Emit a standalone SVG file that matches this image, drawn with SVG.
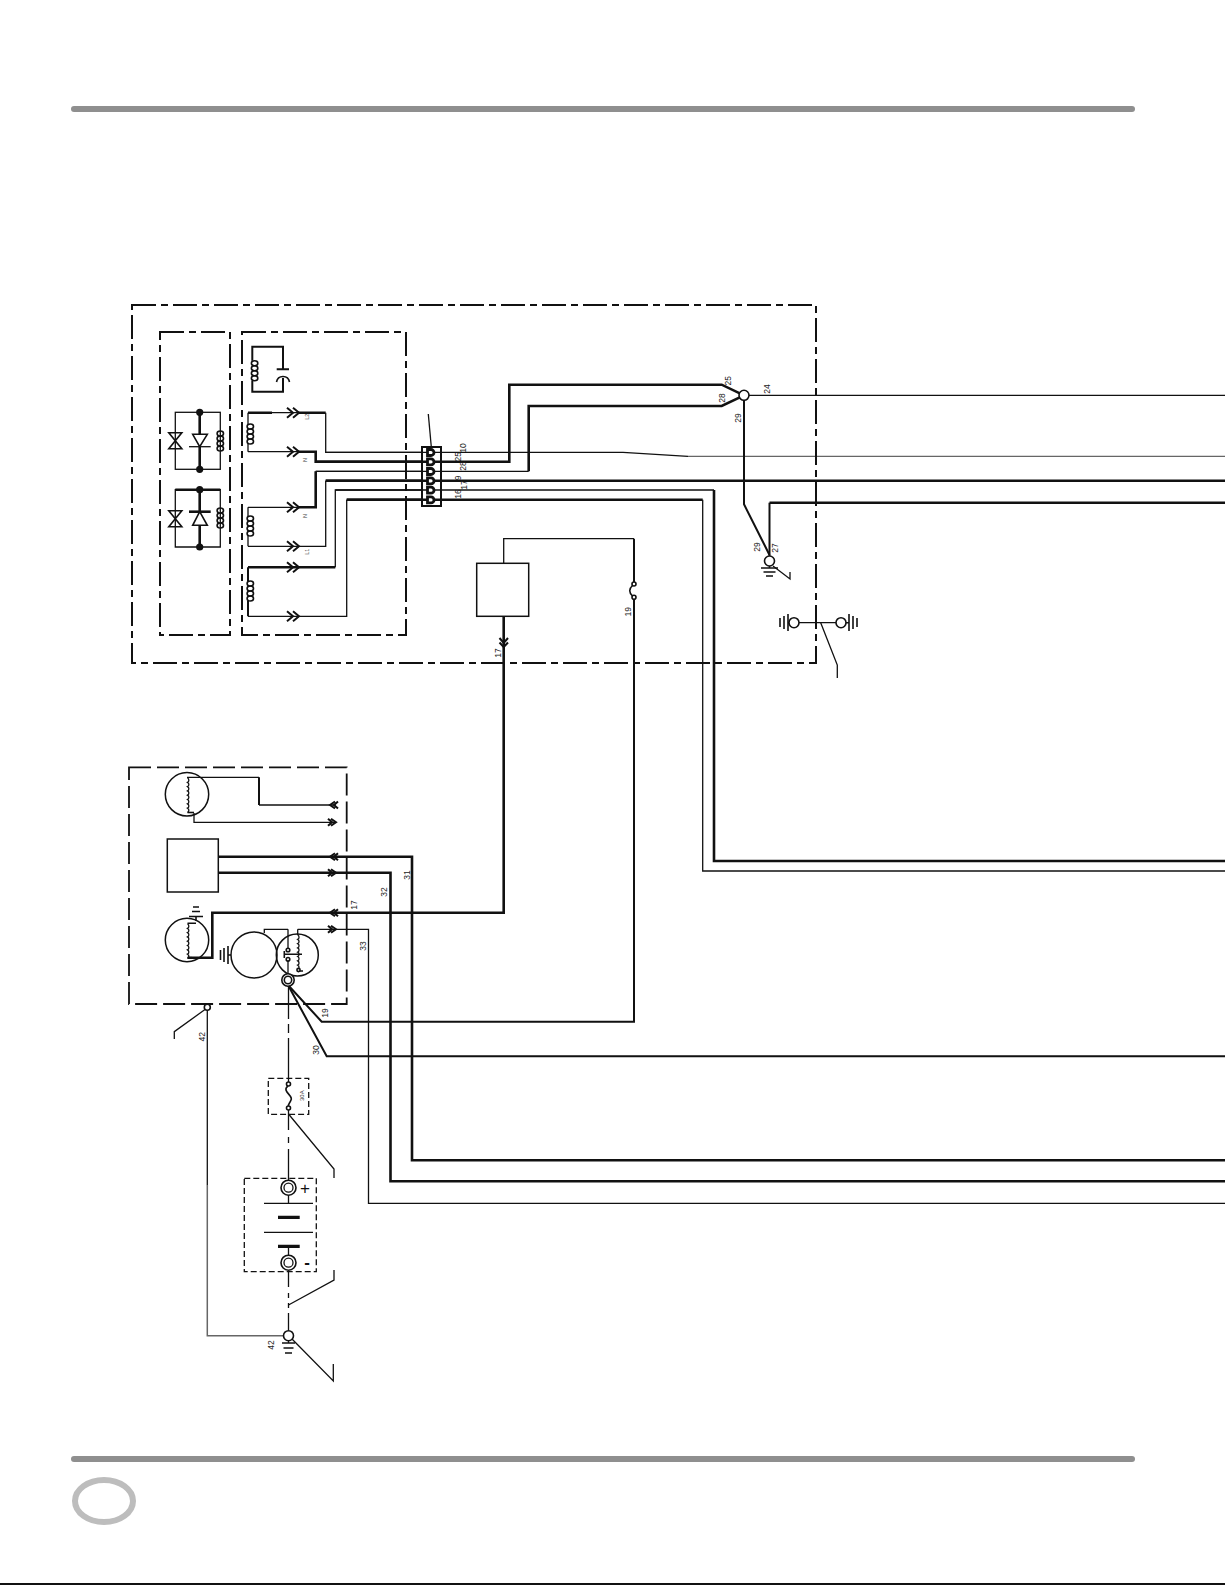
<svg xmlns="http://www.w3.org/2000/svg" width="1225" height="1585" viewBox="0 0 1225 1585">
<style>
.w{fill:none;stroke:#111;stroke-linejoin:miter}
.t1{stroke-width:1.3}
.t2{stroke-width:2}
.t3{stroke-width:2.6}
.box{fill:none;stroke:#111;stroke-width:2;stroke-dasharray:24 5 7 5}
.box2{fill:none;stroke:#111;stroke-width:1.8;stroke-dasharray:22 6}
.box3{fill:none;stroke:#111;stroke-width:1.3;stroke-dasharray:6 3}
.solid{fill:#fff;stroke:#111;stroke-width:1.6}
.sym{fill:none;stroke:#111;stroke-width:1.6}
.sym2{fill:none;stroke:#111;stroke-width:2}
.sym3{fill:none;stroke:#111;stroke-width:3.2}
.c{fill:none;stroke:#111;stroke-width:1.6}
.l{font-family:"Liberation Sans",Arial,sans-serif;font-size:8.5px;fill:#222;text-anchor:middle}
.s{font-family:"Liberation Sans",Arial,sans-serif;font-size:5.5px;fill:#444;text-anchor:middle}
.bar{stroke:#8f8f8f;stroke-width:6;stroke-linecap:round}
</style>
<defs>
<g id="coil" class="c"><ellipse cx="2.3" cy="2.5" rx="3.2" ry="2.5"/><ellipse cx="2.3" cy="7.500" rx="3.2" ry="2.5"/><ellipse cx="2.3" cy="12.500" rx="3.2" ry="2.5"/><ellipse cx="2.3" cy="17.500" rx="3.2" ry="2.5"/></g>
<path id="scal" class="sym" style="stroke-width:1.3" d="M0 0a2.400 2.400 0 0 1 0 4.300a2.400 2.400 0 0 1 0 4.300a2.400 2.400 0 0 1 0 4.300a2.400 2.400 0 0 1 0 4.300a2.400 2.400 0 0 1 0 4.300a2.400 2.400 0 0 1 0 4.300a2.400 2.400 0 0 1 0 4.300a2.400 2.400 0 0 1 0 4.300"/>
<path id="chev" class="sym2" d="M-6 -5L0 0L-6 5M0 -5L6 0L0 5"/>
<path id="arrR" class="sym2" d="M-5 -3.500L-1 0L-5 3.500M-2 -3.500L3 0L-2 3.500"/>
<path id="bow" class="sym" d="M-6.500 -8H6.500L-6.500 8H6.500Z"/>
</defs>
<rect width="1225" height="1585" fill="#fff"/>
<g id="page-frame">
<line class="bar" x1="74" y1="109" x2="1132" y2="109"/>
<line class="bar" x1="74" y1="1459" x2="1132" y2="1459"/>
<ellipse cx="104" cy="1501" rx="29" ry="21" fill="none" stroke="#bdbdbd" stroke-width="6"/>
<rect x="0" y="1583" width="1225" height="2" fill="#111"/>
</g>
<g id="connectors">
<path class="w t1" d="M325.700 412.700V452.300H623L688 456.300"/>
<path class="w t1" style="stroke:#666" d="M688 456.300H1225"/>
<path class="w t1" d="M248 412.700H298"/>
<path class="w t3" d="M248 412.700H272M298 412.700H325.700"/>
<path class="w t1" d="M248 451.700H298"/>
<path class="w t3" d="M298 451.700H315.700V461.700H509.300V384.700H721.700L744 395.300"/>
<path class="w t1" d="M248 507.300H298"/>
<path class="w t3" d="M298 507.300H315.700V471.300"/>
<path class="w t1" d="M315.700 471.300H528.700"/>
<path class="w t3" d="M528.700 471.300V406H721.700L744 395.300"/>
<path class="w t1" d="M248 546.300H325.700V480.700"/>
<path class="w t3" d="M325.700 480.700H1225"/>
<path class="w t3" d="M248 567.300H335.300"/>
<path class="w t1" d="M335.300 567.300V490H714"/>
<path class="w t3" d="M714 490V861H1225"/>
<path class="w t1" d="M248 616.300H346.700V499.700"/>
<path class="w t3" d="M346.700 499.700H702.700"/>
<path class="w t1" d="M702.700 499.700V871H1225"/>
<path class="w t1" d="M749 395.300H1225"/>
<path class="w t2" d="M744 400V504.300L769.500 555"/>
<path class="w t2" d="M769.500 556V502.700"/>
<path class="w t3" d="M769.500 502.700H1225"/>
<path class="w t1" d="M503.700 563.300V538.700H634"/>
<path class="w t2" d="M634 538.700V582"/>
<path class="w t2" d="M634 600V1021.700H321.700L288 985"/>
<path class="w t3" d="M503.700 616.300V912.700H212.300V957.700H187.700"/>
<path class="w t2" d="M1225 1056.300H326.700L288 985"/>
<path class="w t1" d="M187 777.300H259"/>
<path class="w t2" d="M259 777.300V805"/>
<path class="w t1" d="M259 805H336"/>
<path class="w t1" d="M194 813V822.300H336"/>
<path class="w t3" d="M218.300 856.700H412V1160.300H1225"/>
<path class="w t3" d="M218.300 872.700H390.500V1181.300H1225"/>
<path class="w t1" d="M297.700 929.300H368.500V1203.300H1225"/>
<path class="w t1" d="M207.300 1010V1185"/>
<path class="w t1" style="stroke:#666;stroke-width:1.5" d="M207.300 1185V1335.700H284"/>
<path class="w t1" d="M205 1009.500L174.300 1031.700V1039"/>
<path class="w t1" d="M288.500 985V1010"/>
<path class="w t1" d="M288.500 1010V1047" stroke-dasharray="9 5"/>
<path class="w t1" d="M288.500 1047V1084"/>
<path class="w t1" d="M288.500 1108V1130M288.500 1137V1143M288.500 1149V1180"/>
<path class="w t1" d="M288.500 1271V1287M288.500 1293V1298M288.500 1303V1308M288.500 1313V1331"/>
<path class="w t1" d="M288.500 1114L334 1169V1178"/>
<path class="w t1" d="M288.500 1305L334 1280V1270"/>
<path class="w t1" d="M292 1339L333.300 1381V1364"/>
<path class="w t1" d="M428.300 414L431.300 447"/>
<path class="w t1" d="M773 566L790 579V572"/>
<path class="w t1" d="M820.700 622.700L837.300 665V678"/>
</g>
<g id="outer-box"><rect class="box" x="132" y="305" width="684" height="358"/></g>
<g id="rectifier-box"><rect class="box" x="160" y="332" width="70" height="303"/>
<rect class="w t1" x="175.300" y="412.300" width="45" height="57"/>
<path class="w t3" d="M199.700 412.300V434M199.700 447V469.300"/>
<circle cx="199.700" cy="412.300" r="3.600" fill="#111"/><circle cx="199.700" cy="469.300" r="3.600" fill="#111"/>
<use href="#bow" x="175.300" y="440.700"/>
<path class="solid" d="M192.700 434.300H207.300L199.700 446.700Z"/><path class="w t1" d="M189 446.700H210.700"/>
<use href="#coil" x="218" y="431"/>
<path class="w t1" d="M175.300 489.700H220.300V547H175.300Z"/><path class="w t3" d="M175.300 489.700H220.300"/>
<path class="w t3" d="M199.700 489.700V512M199.700 525V547"/>
<circle cx="199.700" cy="489.700" r="3.600" fill="#111"/><circle cx="199.700" cy="547" r="3.600" fill="#111"/>
<use href="#bow" x="175.300" y="518.700"/>
<path class="solid" d="M192.700 525.300H207.300L199.700 511.700Z"/><path class="w t3" d="M189 511.700H210.700"/>
<use href="#coil" x="218" y="508"/>
</g>
<g id="alternator-box"><rect class="box" x="242" y="332" width="164" height="303"/>
<path class="w t2" d="M252.300 360.700V346.700H283V369.300M276.700 369.300H289M283 378V391.700H252.300V380.700"/>
<path class="sym" d="M276.500 382Q277.500 376.500 283 376.500T289.500 382"/>
<use href="#coil" x="252.300" y="360.700"/>
<path class="w t1" d="M248 412.700V424M248 444V451.700M248 507.300V516M248 536V546.300"/>
<path class="w t2" d="M248 567.300V581M248 601V616.300"/>
<use href="#coil" x="248" y="424"/><use href="#coil" x="248" y="516"/><use href="#coil" x="248" y="581"/>
<use href="#chev" x="293" y="412.700"/><use href="#chev" x="293" y="451.700"/><use href="#chev" x="293" y="507.300"/><use href="#chev" x="293" y="546.300"/><use href="#chev" x="293" y="567.300"/><use href="#chev" x="293" y="616.300"/>
<text class="s" transform="translate(309 416.700) rotate(-90)">L2</text>
<text class="s" transform="translate(307 460) rotate(-90)">N</text>
<text class="s" transform="translate(307 516) rotate(-90)">N</text>
<text class="s" transform="translate(309 551.700) rotate(-90)">L1</text>
</g>
<g id="terminal-block">
<rect x="422" y="447" width="19" height="59" fill="#fff" stroke="#111" stroke-width="2"/>
<path class="w t1" d="M325.700 452.300H441M315.700 471.300H441M335.300 490H441"/>
<path class="w t3" d="M315.700 461.700H441M325.700 480.700H441M346.700 499.700H441"/>
<g fill="#fff" stroke="#111" stroke-width="2.800"><path d="M427.500 449.500H431a3 3 0 0 1 0 6H427.500Z"/><path d="M427.500 458.900H431a3 3 0 0 1 0 6H427.500Z"/><path d="M427.500 468.500H431a3 3 0 0 1 0 6H427.500Z"/><path d="M427.500 477.900H431a3 3 0 0 1 0 6H427.500Z"/><path d="M427.500 487.200H431a3 3 0 0 1 0 6H427.500Z"/><path d="M427.500 496.900H431a3 3 0 0 1 0 6H427.500Z"/></g>
</g>
<g id="splice"><circle class="solid" cx="744" cy="395.300" r="5"/></g>
<g id="ground-27"><circle class="solid" cx="769.500" cy="561" r="5"/><path class="sym" d="M769.500 566V568M761 568H778M763.500 572H775.500M766 576H773"/></g>
<g id="ground-pair">
<path class="w t1" d="M799 622.700H836"/>
<circle class="solid" cx="794" cy="622.700" r="5"/><circle class="solid" cx="841" cy="622.700" r="5"/>
<path class="sym" d="M789 622.700H788M788 614V631M784 616V629M780 618V627M846 622.700H849M849 614V631M853 616V629M857 618V627"/>
</g>
<g id="module-box"><rect x="476.700" y="563.300" width="52" height="53" fill="#fff" stroke="#111" stroke-width="1.500"/></g>
<g id="arrow-17"><path class="sym3" style="stroke-width:2" d="M499.500 638L503.700 643L508 638M499.500 642.500L503.700 647L508 642.500"/></g>
<g id="fuse-19"><circle class="solid" cx="634" cy="584" r="2"/><circle class="solid" cx="634" cy="597.300" r="2"/><path class="sym" d="M632.500 585.500Q627 590.500 632.500 596"/></g>
<g id="engine-box"><rect class="box2" x="129" y="767.300" width="217.700" height="236.700"/>
<use href="#arrR" x="333" y="822.300"/><use href="#arrR" x="333" y="872.700"/><use href="#arrR" x="333" y="929.300"/>
<use href="#arrR" transform="translate(333 805) rotate(180)"/><use href="#arrR" transform="translate(333 856.700) rotate(180)"/><use href="#arrR" transform="translate(333 912.700) rotate(180)"/>
</g>
<g id="motor-1"><circle cx="187" cy="794.300" r="21.700" fill="none" stroke="#111" stroke-width="1.500"/>
<path class="sym" d="M187.500 812.500H194"/><use href="#scal" x="187.500" y="778"/></g>
<g id="control-box"><rect x="167.300" y="839" width="51" height="53" fill="#fff" stroke="#111" stroke-width="1.500"/></g>
<g id="motor-2"><circle cx="187" cy="940" r="21.700" fill="none" stroke="#111" stroke-width="1.500"/>
<path class="sym" d="M187.500 923.300H196M196 921V917M189 916.500H203M192 911.500H200M193 907H199"/>
<use href="#scal" x="187.500" y="924"/><path class="sym" d="M187.500 957.700H192"/></g>
<g id="starter"><circle cx="254" cy="955" r="23" fill="none" stroke="#111" stroke-width="1.500"/>
<path class="sym" d="M231 955H228M228 946V964M224 948V962M220.500 950V960"/>
<path class="w t1" d="M264.300 933V929.300H288"/></g>
<g id="relay"><circle cx="297.300" cy="955" r="21" fill="none" stroke="#111" stroke-width="1.500"/>
<path class="w t1" d="M288 929.300V948M288 961V975"/>
<circle class="solid" cx="288" cy="950" r="1.800"/><circle class="solid" cx="288" cy="959.300" r="1.800"/>
<path class="sym" d="M284.300 951V958M284.300 954.300H302"/>
<path class="w t1" d="M297.700 929.300V935"/>
<use href="#scal" x="297.700" y="935"/>
<path class="w t1" d="M297.700 968V971H303"/>
<circle class="solid" cx="298.500" cy="970" r="1.600"/>
<circle cx="288" cy="980" r="6.200" fill="#fff" stroke="#111" stroke-width="1.600"/><circle cx="288" cy="980" r="3.700" fill="#fff" stroke="#111" stroke-width="1.600"/></g>
<g id="ground-42-top"><circle class="solid" cx="207.300" cy="1007.300" r="3"/></g>
<g id="fuse-30a"><rect class="box3" x="268.300" y="1078.300" width="40.400" height="36"/>
<circle class="solid" cx="288.500" cy="1084" r="2"/><circle class="solid" cx="288.500" cy="1108" r="2"/>
<path class="sym" d="M288 1086C281 1091 294 1096 291 1100C290 1103 288 1104 288.500 1106"/>
<text class="s" style="font-size:6px;fill:#333" transform="translate(303.500 1095.700) rotate(-90)">30A</text></g>
<g id="battery"><rect class="box3" x="244.300" y="1178.300" width="72" height="93.400"/>
<path class="w t1" d="M288.500 1195V1203.300M288.500 1246.300V1255"/>
<path class="w t1" d="M264 1203.300H313M264 1232.300H313"/>
<path class="sym3" d="M278 1217.300H299.700M278 1246.300H299.700"/>
<circle cx="288.500" cy="1187.700" r="7.500" fill="#fff" stroke="#111" stroke-width="1.600"/><circle cx="288.500" cy="1187.700" r="4.500" fill="#fff" stroke="#111" stroke-width="1.300"/>
<circle cx="288.500" cy="1262.700" r="7.500" fill="#fff" stroke="#111" stroke-width="1.600"/><circle cx="288.500" cy="1262.700" r="4.500" fill="#fff" stroke="#111" stroke-width="1.300"/>
<text x="305" y="1194" style="font-family:'Liberation Sans',Arial,sans-serif;font-size:17px;fill:#111;text-anchor:middle">+</text>
<text x="307" y="1268" style="font-family:'Liberation Sans',Arial,sans-serif;font-size:17px;font-weight:bold;fill:#111;text-anchor:middle">-</text></g>
<g id="ground-42"><circle class="solid" cx="288.500" cy="1335.700" r="5"/><path class="sym" style="stroke-width:1.300" d="M288.500 1341V1343M282 1343H295M283.500 1348H293.500M285 1353H292"/></g>
<g id="labels">
<text class="l" transform="translate(731 380.700) rotate(-90)">25</text>
<text class="l" transform="translate(725 398) rotate(-90)">28</text>
<text class="l" transform="translate(769.700 389) rotate(-90)">24</text>
<text class="l" transform="translate(741 418) rotate(-90)">29</text>
<text class="l" transform="translate(759.700 547) rotate(-90)">29</text>
<text class="l" transform="translate(778 548) rotate(-90)">27</text>
<text class="l" transform="translate(631 611.700) rotate(-90)">19</text>
<text class="l" transform="translate(500.700 653) rotate(-90)">17</text>
<text class="l" transform="translate(466.300 448) rotate(-90)">10</text>
<text class="l" transform="translate(461 456.700) rotate(-90)">25</text>
<text class="l" transform="translate(466.300 466) rotate(-90)">28</text>
<text class="l" transform="translate(461 478) rotate(-90)">9</text>
<text class="l" transform="translate(467 485) rotate(-90)">17</text>
<text class="l" transform="translate(461 494) rotate(-90)">16</text>
<text class="l" transform="translate(357 905) rotate(-90)">17</text>
<text class="l" transform="translate(409.700 875) rotate(-90)">31</text>
<text class="l" transform="translate(387 892) rotate(-90)">32</text>
<text class="l" transform="translate(366 946) rotate(-90)">33</text>
<text class="l" transform="translate(328 1013) rotate(-90)">19</text>
<text class="l" transform="translate(319 1050) rotate(-90)">30</text>
<text class="l" transform="translate(204.700 1036.700) rotate(-90)">42</text>
<text class="l" transform="translate(273.700 1345) rotate(-90)">42</text>
</g>
</svg>
